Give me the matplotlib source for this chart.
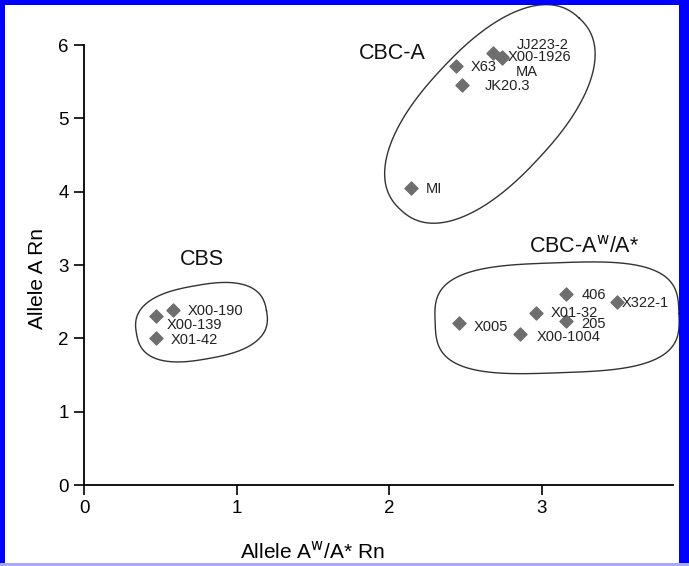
import numpy as np
import matplotlib.pyplot as plt
from matplotlib.patches import Rectangle

# point names and values
names = ["X63", "JJ223-2", "X00-1926", "MA", "JK20.3", "MI",
         "406", "X322-1", "X01-32", "205", "X005", "X00-1004",
         "X00-190", "X00-139", "X01-42"]
allele_aw = [2.44, 2.68, 2.74, 2.74, 2.48, 2.14,
             3.16, 3.49, 2.96, 3.16, 2.46, 2.86,
             0.58, 0.47, 0.47]
allele_a = [5.72, 5.89, 5.83, 5.82, 5.46, 4.05,
            2.61, 2.50, 2.35, 2.23, 2.21, 2.06,
            2.39, 2.31, 2.00]
# label offsets in points (x, y)
label_off = [(10, -1), (17, 6), (4, 0), (10, -10), (16, -1), (11, -1),
             (11, -1), (4, -1), (11, 0), (11, -2), (10, -3), (12, -2),
             (11, -1), (8, -7), (11, -1)]

groups = ["CBC-A", "CBC-A$^{\\mathrm{w}}$/A*", "CBS"]
group_xy = [(2.02, 5.88), (3.28, 3.26), (0.77, 3.07)]
# outline shapes: center (data), half sizes (px), rotation (deg), exponent
shape_c = [(2.66, 5.06), (3.10, 2.28), (0.77, 2.22)]
shape_r = [(131, 66), (122, 55), (66, 37)]
shape_rot = [47, 2, 10]
shape_p = [2.3, 3.2, 2.6]

plt.rcParams['font.family'] = ['Liberation Sans', 'DejaVu Sans']

fig = plt.figure(figsize=(6.89, 5.66), dpi=100)
ax = fig.add_axes([84 / 689, 81 / 566, 589 / 689, 440 / 566])
ax.set_xlim(0, 3.86)
ax.set_ylim(0, 6)

ax.scatter(allele_aw, allele_a, marker='D', s=44, color='#6e6e6e', zorder=3)
for n, x, y, off in zip(names, allele_aw, allele_a, label_off):
    ax.annotate(n, (x, y), xytext=off, textcoords='offset points',
                fontsize=10.5, va='center', ha='left', color='#222222')

for g, (gx, gy) in zip(groups, group_xy):
    ax.text(gx, gy, g, fontsize=15.5, ha='center', va='center', color='#111111')

# hand-drawn style outlines, built in pixel space
t = np.linspace(0, 2 * np.pi, 400)
for c, r, rot, p in zip(shape_c, shape_r, shape_rot, shape_p):
    cx, cy = ax.transData.transform(c)
    ex = np.sign(np.cos(t)) * np.abs(np.cos(t)) ** (2 / p) * r[0]
    ey = np.sign(np.sin(t)) * np.abs(np.sin(t)) ** (2 / p) * r[1]
    a = np.deg2rad(rot)
    px = cx + ex * np.cos(a) - ey * np.sin(a)
    py = cy + ex * np.sin(a) + ey * np.cos(a)
    d = ax.transData.inverted().transform(np.column_stack([px, py]))
    ax.plot(d[:, 0], d[:, 1], color='#333333', lw=1.0, clip_on=False)

for s in ['top', 'right']:
    ax.spines[s].set_visible(False)
for s in ['left', 'bottom']:
    ax.spines[s].set_linewidth(1.3)
ax.set_xticks([0, 1, 2, 3])
ax.set_yticks(range(7))
ax.tick_params(direction='out', length=7, width=1.2, labelsize=13.5, pad=4)
ax.set_xlabel("Allele A$^{\\mathrm{w}}$/A* Rn", fontsize=15)
ax.xaxis.set_label_coords(0.387, -0.125)
ax.set_ylabel("Allele A Rn", fontsize=15)
ax.yaxis.set_label_coords(-0.063, 0.47)

# blue frame around the figure (pixel sizes)
W, H = 689, 566
frame = [((0, 0), 5, H, '#0000ff'), ((0, H - 5), W, 5, '#0000ff'),
         ((W - 10, 0), 10, H, '#0000ff'), ((0, 0), W, 3, '#a8a8ff')]
for (x0, y0), w, h, col in frame:
    fig.patches.append(Rectangle((x0 / W, y0 / H), w / W, h / H,
                                 transform=fig.transFigure, color=col, lw=0))

fig.savefig("out.png", dpi=100)
